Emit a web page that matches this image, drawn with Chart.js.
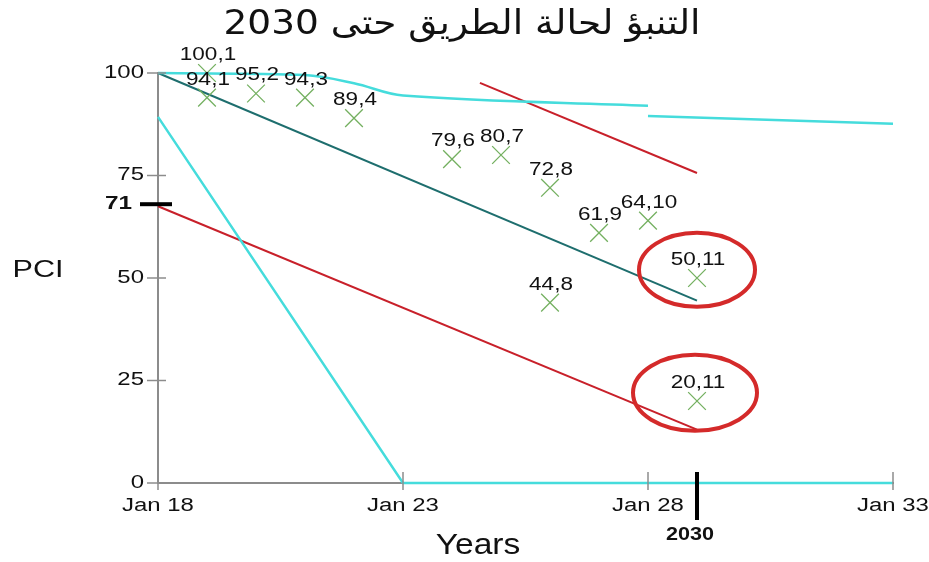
<!DOCTYPE html>
<html>
<head>
<meta charset="utf-8">
<script src="https://cdn.jsdelivr.net/npm/chart.js@4/dist/chart.umd.min.js"></script>
<style>
  html, body { margin: 0; padding: 0; background: #fff; }
  #wrap { width: 929px; height: 562px; }
</style>
</head>
<body>
<div id="wrap"><canvas id="pciChart"></canvas></div>
<script>
// survey points (year offset from 2000, PCI) and their labels
const pointYears = [19, 19, 20, 21, 22, 24, 25, 26, 27, 28, 29, 26, 29];
const pointPCI = [100, 94, 95, 94, 89, 79, 80, 72, 61, 64, 50, 44, 20];
const pointLabels = ['100,1', '94,1', '95,2', '94,3', '89,4', '79,6', '80,7', '72,8', '61,9', '64,10', '50,11', '44,8', '20,11'];

// prediction curves
const cyanTopYears = [18, 21, 22, 23, 28];
const cyanTopPCI = [100, 99.5, 97.5, 94.5, 92];
const cyanTailYears = [28, 33];
const cyanTailPCI = [89.5, 87.6];
const tealYears = [18, 29];
const tealPCI = [100, 44.5];
const cyanSteepYears = [18, 23, 33];
const cyanSteepPCI = [89.3, 0, 0];
const redLowYears = [18, 29];
const redLowPCI = [67.5, 13];
const redHighYears = [24.57, 29];
const redHighPCI = [97.6, 75.6];

// axis ticks
const xTicks = [18, 23, 28, 33];
const xTickLabels = ['Jan 18', 'Jan 23', 'Jan 28', 'Jan 33'];
const yTicks = [0, 25, 50, 75, 100];

// annotations
const markValue = 68, markLabel = '71';
const markYear = 29, markYearLabel = '2030';
const circleYears = [29, 29];
const circlePCI = [52, 22];

const titleText = 'التنبؤ لحالة الطريق حتى 2030';

const pairs = (xs, ys) => xs.map((x, i) => ({ x: x, y: ys[i] }));

const CYAN = '#45dcdc', TEAL = '#1e6e6e', RED = '#c8202a', GREEN = '#74b060', GREY = '#8c8c8c';
const FONT = '"Liberation Sans", Arial, sans-serif';

// draws text stretched horizontally (the source picture is wider than tall)
function stretchText(ctx, text, x, y, font, sx, align) {
  ctx.save();
  ctx.font = font;
  ctx.fillStyle = '#111';
  ctx.textAlign = align || 'center';
  ctx.textBaseline = 'middle';
  ctx.translate(x, y);
  ctx.scale(sx, 1);
  ctx.fillText(text, 0, 0);
  ctx.restore();
}

const decorations = {
  id: 'decorations',
  afterDatasetsDraw(chart) {
    const { ctx, scales: { x, y }, chartArea } = chart;

    // tick marks crossing the axes
    ctx.save();
    ctx.strokeStyle = GREY;
    ctx.lineWidth = 1.5;
    xTicks.forEach(v => {
      const px = x.getPixelForValue(v);
      ctx.beginPath(); ctx.moveTo(px, chartArea.bottom - 11); ctx.lineTo(px, chartArea.bottom + 7); ctx.stroke();
    });
    yTicks.forEach(v => {
      const py = y.getPixelForValue(v);
      ctx.beginPath(); ctx.moveTo(chartArea.left - 11, py); ctx.lineTo(chartArea.left + 8, py); ctx.stroke();
    });
    ctx.restore();

    // tick labels
    xTicks.forEach((v, i) => {
      stretchText(ctx, xTickLabels[i], x.getPixelForValue(v), chartArea.bottom + 23, '18px ' + FONT, 1.33);
    });
    yTicks.forEach(v => {
      stretchText(ctx, String(v), chartArea.left - 14, y.getPixelForValue(v), '18px ' + FONT, 1.33, 'right');
    });

    // point labels
    pointYears.forEach((yr, i) => {
      stretchText(ctx, pointLabels[i], x.getPixelForValue(yr) + 1, y.getPixelForValue(pointPCI[i]) - 18, '18px ' + FONT, 1.25);
    });

    // red ellipses
    ctx.save();
    ctx.strokeStyle = '#d42a2a';
    ctx.lineWidth = 4;
    const radii = [[58, 37], [62, 38]];
    circleYears.forEach((yr, i) => {
      ctx.beginPath();
      ctx.ellipse(x.getPixelForValue(yr) - (i ? 2 : 0), y.getPixelForValue(circlePCI[i]), radii[i][0], radii[i][1], 0, 0, Math.PI * 2);
      ctx.stroke();
    });
    ctx.restore();

    // black markers: 71 on the PCI axis, 2030 on the year axis
    ctx.save();
    ctx.strokeStyle = '#000';
    ctx.lineWidth = 4;
    const my = y.getPixelForValue(markValue);
    ctx.beginPath(); ctx.moveTo(chartArea.left - 18, my); ctx.lineTo(chartArea.left + 14, my); ctx.stroke();
    const mx = x.getPixelForValue(markYear);
    ctx.beginPath(); ctx.moveTo(mx, chartArea.bottom - 11); ctx.lineTo(mx, chartArea.bottom + 37); ctx.stroke();
    ctx.restore();
    stretchText(ctx, markLabel, chartArea.left - 26, my, 'bold 18px ' + FONT, 1.35, 'right');
    stretchText(ctx, markYearLabel, mx - 7, chartArea.bottom + 52, 'bold 18px ' + FONT, 1.2);

    // axis titles and chart title
    stretchText(ctx, 'PCI', 38, 271, '23px ' + FONT, 1.33);
    stretchText(ctx, 'Years', 478, 546, '30px ' + FONT, 1.12);
    ctx.save();
    ctx.font = '34px "DejaVu Sans", ' + FONT;
    const w = ctx.measureText(titleText).width;
    ctx.restore();
    stretchText(ctx, titleText, 462, 25, '34px "DejaVu Sans", ' + FONT, 477 / w);
  }
};

const lineSet = (xs, ys, color, width, tension) => ({
  type: 'line',
  data: pairs(xs, ys),
  borderColor: color,
  borderWidth: width,
  pointRadius: 0,
  tension: tension || 0,
  clip: false,
  fill: false
});

new Chart(document.getElementById('pciChart'), {
  type: 'scatter',
  data: {
    datasets: [
      {
        data: pairs(pointYears, pointPCI),
        pointStyle: 'crossRot',
        pointRadius: 12.5,
        borderColor: GREEN,
        borderWidth: 1.3,
        clip: false
      },
      lineSet(cyanTopYears, cyanTopPCI, CYAN, 2.5, 0.35),
      lineSet(cyanTailYears, cyanTailPCI, CYAN, 2.5),
      lineSet(tealYears, tealPCI, TEAL, 2),
      lineSet(cyanSteepYears, cyanSteepPCI, CYAN, 2.5),
      lineSet(redLowYears, redLowPCI, RED, 2),
      lineSet(redHighYears, redHighPCI, RED, 2)
    ]
  },
  options: {
    responsive: true,
    maintainAspectRatio: false,
    animation: false,
    events: [],
    layout: { padding: { top: 73, right: 36, left: 0, bottom: 0 } },
    plugins: { legend: { display: false }, tooltip: { enabled: false }, title: { display: false } },
    scales: {
      x: {
        type: 'linear',
        min: 18,
        max: 33,
        grid: { display: false },
        border: { color: GREY, width: 2 },
        ticks: { display: false },
        afterFit(s) { s.height = 79; }
      },
      y: {
        min: 0,
        max: 100,
        grid: { display: false },
        border: { color: GREY, width: 2 },
        ticks: { display: false },
        afterFit(s) { s.width = 158; }
      }
    }
  },
  plugins: [decorations]
});
</script>
</body>
</html>
